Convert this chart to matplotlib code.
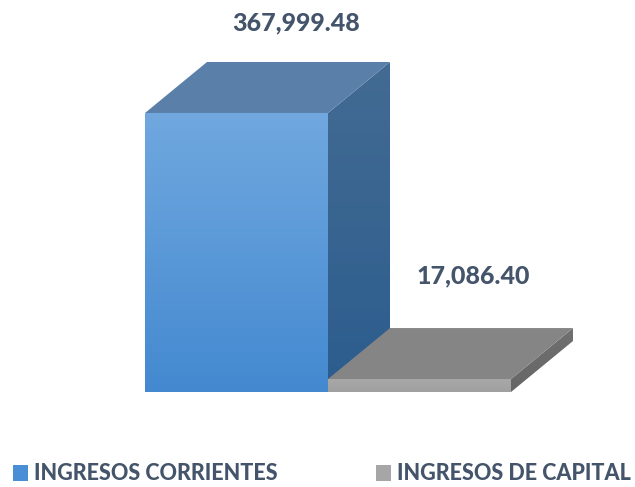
import numpy as np
import matplotlib
matplotlib.use('Agg')
import matplotlib.pyplot as plt
from matplotlib.patches import Polygon, Patch

categories = ['INGRESOS CORRIENTES', 'INGRESOS DE CAPITAL']
values = [367999.48, 17086.40]
value_labels = ['367,999.48', '17,086.40']

# colores: frente (arriba, abajo), lado (arriba, abajo), tapa
front_cols = [('#70a8df', '#4489d0'), ('#a8a8a8', '#a0a0a0')]
side_cols = [('#436b93', '#2c5d8e'), ('#707070', '#666666')]
top_cols = ['#5a80aa', '#858585']
legend_cols = ['#4a8fd6', '#a6a6a6']
text_col = '#44546A'

plt.rcParams['font.family'] = ['Lato', 'DejaVu Sans']

fig = plt.figure(figsize=(6.35, 4.87), dpi=100)
ax = fig.add_axes([0, 0, 1, 1])
ax.axis('off')

# escala en pixeles
ppu = 183.0
vscale = max(values) / 279.0
ax.set_xlim(-0.5 - 145 / ppu, -0.5 + (635 - 145) / ppu)
ax.set_ylim(-(487 - 392) * vscale, 392 * vscale)
dx = 62 / ppu
dy = 51 * vscale


def grad_poly(ax, verts, c1, c2):
    poly = Polygon(verts, closed=True, facecolor='none', edgecolor='none')
    ax.add_patch(poly)
    xs = [v[0] for v in verts]
    ys = [v[1] for v in verts]
    cmap = matplotlib.colors.LinearSegmentedColormap.from_list('g', [c2, c1])
    grad = np.linspace(0, 1, 100).reshape(-1, 1)
    im = ax.imshow(grad, cmap=cmap, origin='lower', aspect='auto',
                   extent=[min(xs), max(xs), min(ys), max(ys)], zorder=2)
    im.set_clip_path(poly)


for i, v in enumerate(values):
    x0, x1 = i - 0.5, i + 0.5
    # frente
    grad_poly(ax, [(x0, 0), (x1, 0), (x1, v), (x0, v)], *front_cols[i])
    # lado
    grad_poly(ax, [(x1, 0), (x1 + dx, dy), (x1 + dx, v + dy), (x1, v)], *side_cols[i])
    # tapa
    ax.add_patch(Polygon([(x0, v), (x1, v), (x1 + dx, v + dy), (x0 + dx, v + dy)],
                         closed=True, facecolor=top_cols[i], edgecolor='none', zorder=3))

# desplazamiento de etiquetas en pixeles (x, y)
label_off = [(60, 90), (54, 103)]
for i, v in enumerate(values):
    ax.text(i + label_off[i][0] / ppu, v + label_off[i][1] * vscale, value_labels[i],
            ha='center', va='center', fontsize=18, fontweight=900, color=text_col, zorder=5)

handles = [Patch(facecolor=c, edgecolor='none') for c in legend_cols]
leg = fig.legend(handles, categories, loc='center', bbox_to_anchor=(322 / 635, 1 - 474 / 487),
                 ncol=2, frameon=False, handlelength=0.7, handleheight=0.75,
                 handletextpad=0.28, columnspacing=4.6,
                 prop={'size': 15.5, 'weight': 900})
for t in leg.get_texts():
    t.set_color(text_col)

fig.savefig('out.png', dpi=100)
